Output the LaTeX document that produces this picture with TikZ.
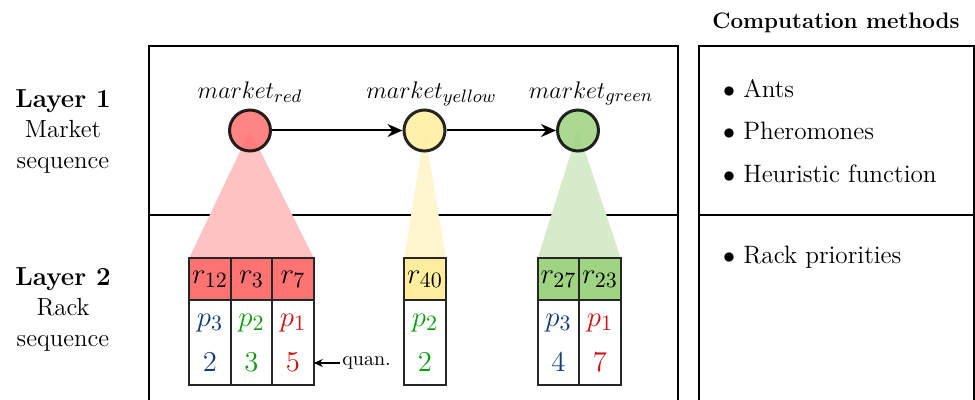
\documentclass[tikz,border=0pt]{standalone}
\usepackage{amsmath,amssymb}
\usepackage{tikz}
\usetikzlibrary{positioning,arrows.meta,shapes,backgrounds}

\definecolor{redhead}{HTML}{FF7373}
\definecolor{redfan}{HTML}{FFC2C2}
\definecolor{yellowhead}{HTML}{FFEEA0}
\definecolor{yellowfan}{HTML}{FFF5CF}
\definecolor{greenhead}{HTML}{9FD483}
\definecolor{greenfan}{HTML}{D5EBC9}
\definecolor{pblue}{HTML}{0F3D78}
\definecolor{pgreen}{HTML}{0E9A0E}
\definecolor{pred}{HTML}{D01010}

\newcommand{\rackfont}{\fontsize{15.8}{19}\selectfont}
\newcommand{\bodyfont}{\fontsize{12.4}{15.25}\selectfont}

\begin{document}
\begin{tikzpicture}[
    x=0.5pt, y=-0.5pt,
    market/.style={circle, draw=black, draw opacity=0.85, fill opacity=0.88, line width=1.5pt, minimum size=20.5pt, inner sep=0pt},
    mlabel/.style={font=\fontsize{12.8}{15}\selectfont, inner sep=1pt, text depth=3pt, label distance=1pt},
    rackhead/.style={rectangle, draw=black!85, line width=1pt, outer sep=0pt, inner sep=0pt, minimum width=20.75pt, minimum height=21pt, font=\rackfont},
    rackbody/.style={rackhead, minimum height=42.5pt, align=center},
    layer/.style={align=center, font=\bodyfont},
    method/.style={anchor=west, align=left, font=\fontsize{12.6}{21.25}\selectfont},
    arrow/.style={-{Stealth[length=7.5pt, width=6.5pt]}, line width=1pt}
]
\useasboundingbox (0,0) rectangle (975,400);

% layer titles
\node[layer] (layer1) at (63,131) {{\fontsize{13}{15}\selectfont\bfseries Layer 1}\\Market\\sequence};
\node[layer] (layer2) at (63,309) {{\fontsize{13}{15}\selectfont\bfseries Layer 2}\\Rack\\sequence};

% markets
\node[market, fill=redhead, label={[mlabel]above:$market_{red}$}] (mred) at (250,130.5) {};
\node[market, fill=yellowhead, label={[mlabel, xshift=3.5pt]above:$market_{yellow}$}] (myellow) at (424.5,130.5) {};
\node[market, fill=greenhead, label={[mlabel, xshift=6.5pt]above:$market_{green}$}] (mgreen) at (578,130.5) {};

\draw[arrow] (mred) -- (myellow);
\draw[arrow] (myellow) -- (mgreen);

% racks of the red market
\node[rackhead, fill=redhead] (r12) at (210,279) {$r_{12}$};
\node[rackhead, fill=redhead, right=0pt of r12] (r3) {$r_3$};
\node[rackhead, fill=redhead, right=0pt of r3] (r7) {$r_7$};
\node[rackbody, text=pblue, below=0pt of r12] (q12) {$p_3$\\[3.5pt]$2$};
\node[rackbody, text=pgreen, below=0pt of r3] (q3) {$p_2$\\[3.5pt]$3$};
\node[rackbody, text=pred, below=0pt of r7] (q7) {$p_1$\\[3.5pt]$5$};

% racks of the yellow market
\node[rackhead, fill=yellowhead] (r40) at (425,279) {$r_{40}$};
\node[rackbody, text=pgreen, below=0pt of r40] (q40) {$p_2$\\[3.5pt]$2$};

% racks of the green market
\node[rackhead, fill=greenhead] (r27) at (558.5,279) {$r_{27}$};
\node[rackhead, fill=greenhead, right=0pt of r27] (r23) {$r_{23}$};
\node[rackbody, text=pblue, below=0pt of r27] (q27) {$p_3$\\[3.5pt]$4$};
\node[rackbody, text=pred, below=0pt of r23] (q23) {$p_1$\\[3.5pt]$7$};

% quantity hint
\node[anchor=west, font=\fontsize{10}{12}\selectfont, inner sep=1pt] (quan) at (340,363) {quan.};
\draw[-{Stealth[length=4.5pt, width=4pt]}, line width=0.9pt] (quan.west) -- (q7.east |- quan.west);

% computation methods
\node[font=\fontsize{11.2}{13}\selectfont\bfseries] (methods) at (836,23) {Computation methods};
\node[method] (methods1) at (716,131) {$\bullet$ Ants\\$\bullet$ Pheromones\\$\bullet$ Heuristic function};
\node[method] (methods2) at (716,257) {$\bullet$ Rack priorities};

\begin{scope}[on background layer]
  % frames
  \draw[line width=1pt] (149,410) -- (149,46) -- (678,46) -- (678,410);
  \draw[line width=1pt] (149,215) -- (678,215);
  \draw[line width=1pt] (699,410) -- (699,46) -- (974,46) -- (974,410);
  \draw[line width=1pt] (699,215) -- (974,215);
  % fans from market to racks
  \fill[redfan] (mred.center) -- (r12.north west) -- (r7.north east) -- cycle;
  \fill[yellowfan] (myellow.center) -- (r40.north west) -- (r40.north east) -- cycle;
  \fill[greenfan] (mgreen.center) -- (r27.north west) -- (r23.north east) -- cycle;
\end{scope}

\end{tikzpicture}
\end{document}
